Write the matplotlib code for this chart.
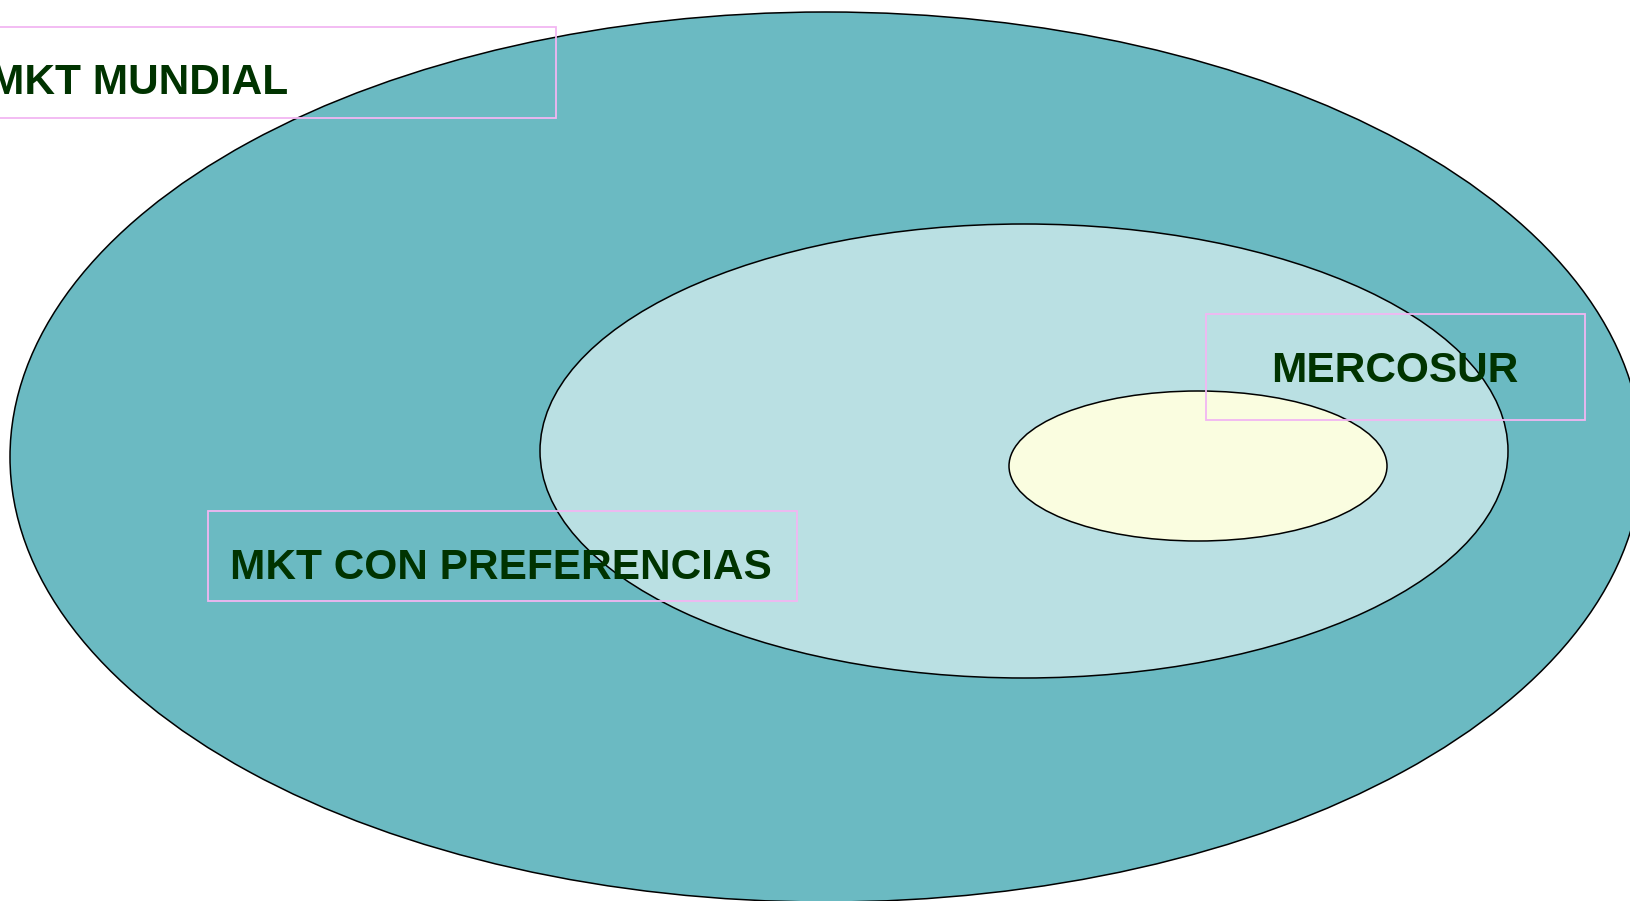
"""
Nested markets diagram: MKT MUNDIAL > MKT CON PREFERENCIAS > MERCOSUR
"""

import matplotlib
matplotlib.use("Agg")
import matplotlib.pyplot as plt
from matplotlib.patches import Ellipse, Rectangle

# ============================================================
# DATA
# ============================================================

labels = ["MKT MUNDIAL", "MKT CON PREFERENCIAS", "MERCOSUR"]

# ellipses, outer to inner (pixel space of the 1630x901 canvas)
ell_centers = [(826, 457), (1024, 451), (1198, 466)]
ell_sizes = [(1632, 890), (968, 454), (378, 150)]
ell_colors = ["#6bbac2", "#bae0e3", "#fafde0"]

# label boxes: (left, top, right, bottom)
box_extents = [(-278, 27, 556, 118), (208, 511, 797, 601), (1206, 314, 1585, 420)]
text_pos = [(139, 94), (501, 579), (1395, 382)]

TEXT_COLOR = "#003300"
BOX_COLOR = "#f2b6f2"


def main():
    W, H = 1630, 901
    fig = plt.figure(figsize=(W / 100, H / 100), dpi=100)
    ax = fig.add_axes([0, 0, 1, 1])
    ax.set_xlim(0, W)
    ax.set_ylim(H, 0)
    ax.axis("off")

    for (cx, cy), (w, h), col in zip(ell_centers, ell_sizes, ell_colors):
        ax.add_patch(Ellipse((cx, cy), w, h, facecolor=col,
                             edgecolor="black", linewidth=1.1))

    for (l, t, r, b), (tx, ty), lab in zip(box_extents, text_pos, labels):
        ax.add_patch(Rectangle((l, t), r - l, b - t, fill=False,
                               edgecolor=BOX_COLOR, linewidth=1.3))
        ax.text(tx, ty, lab, ha="center", va="baseline",
                fontsize=30.5, fontweight="bold", color=TEXT_COLOR,
                family=["Liberation Sans", "DejaVu Sans"])

    fig.savefig("out.png", dpi=100)


if __name__ == "__main__":
    main()
